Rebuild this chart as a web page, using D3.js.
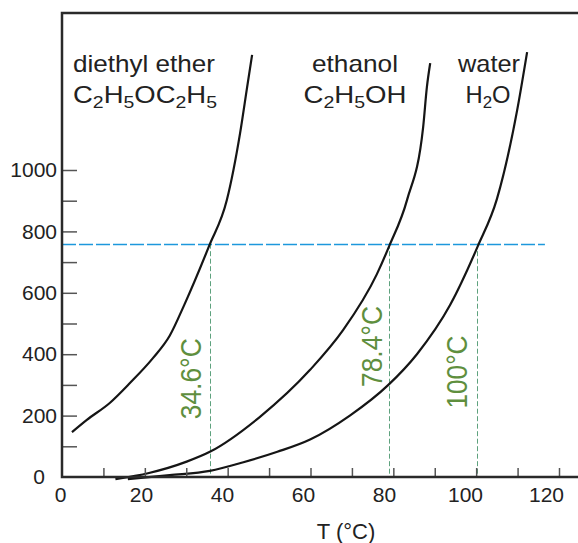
<!DOCTYPE html>
<html>
<head>
<meta charset="utf-8">
<script src="https://cdn.jsdelivr.net/npm/d3@7"></script>
<style>
body { margin: 0; background: #fff; }
svg text { font-family: "Liberation Sans", Arial, sans-serif; }
</style>
</head>
<body>
<div id="chart"></div>
<script>
// vapour pressure curves, [T in °C, P in mmHg]
var etherPts = [[2.4,146],[6,186],[11.6,242],[16.4,306],[22,388],[26,460],[29.5,560],[35.5,752],[39.8,902],[43,1120],[44.7,1270],[45.9,1375]];
var ethanolPts = [[12.9,-7],[21,13],[30.1,50],[35.7,82],[47.8,196],[59.9,349],[67.9,479],[76,660],[79,752],[83.3,902],[87.2,1140],[88.1,1270],[88.9,1348]];
var waterPts = [[15.9,-7],[26,6],[35.7,20],[43.8,48],[52,82],[59.9,122],[69.5,200],[78.8,300],[85.7,400],[93.7,560],[100.4,752],[105,905],[109.9,1195],[112.3,1384]];

var atmP = 760;
var boilT = [35.7, 79, 100.3];
var boilLabels = ["34.6°C", "78.4°C", "100°C"];
var boilLabelT = [33.6, 77.3, 97.8];
var boilLabelP = [320, 425, 342];

var xTicks = [10,20,30,40,50,60,70,80,90,100,110,120];
var xLabels = [0,20,40,60,80,100,120];
var yTicks = [100,200,300,400,500,600,700,800,900,1000];
var yLabels = [0,200,400,600,800,1000];

var svgWidth = 578;
var svgHeight = 543;

var svg = d3.select("#chart")
    .append("svg")
    .attr("width", svgWidth)
    .attr("height", svgHeight);

var x = d3.scaleLinear().domain([0,120]).range([62,559]);
// tick labels drift a little left of the ticks in the original drawing
var xLab = d3.scaleLinear().domain([0,120]).range([60,546]);
var y = d3.scaleLinear().domain([0,1000]).range([477,170]);

// blue 760 mmHg line
svg.append("line")
    .attr("x1", x(0)).attr("x2", x(116.6))
    .attr("y1", Math.round(y(atmP)) + 0.5).attr("y2", Math.round(y(atmP)) + 0.5)
    .attr("stroke", "#1d98dc")
    .attr("stroke-width", 1.4)
    .attr("stroke-dasharray", "14,3");

// green dashed drop lines
svg.selectAll(".drop")
    .data(boilT)
    .enter()
    .append("line")
    .attr("class", "drop")
    .attr("x1", d => Math.round(x(d)) + 0.5).attr("x2", d => Math.round(x(d)) + 0.5)
    .attr("y1", y(atmP)).attr("y2", y(0))
    .attr("stroke", "#5ea27e")
    .attr("stroke-width", 1)
    .attr("stroke-dasharray", "5,2.5");

svg.selectAll(".blabel")
    .data(boilLabels)
    .enter()
    .append("text")
    .attr("class", "blabel")
    .attr("transform", (d,i) => "translate(" + x(boilLabelT[i]) + "," + y(boilLabelP[i]) + ") rotate(-90)")
    .attr("text-anchor", "middle")
    .attr("fill", "#5f8f3e")
    .style("font-size", "30px")
    .attr("textLength", (d,i) => i == 2 ? 73 : 81)
    .attr("lengthAdjust", "spacingAndGlyphs")
    .text(d => d);

// curves
var line = d3.line()
    .x(d => x(d[0]))
    .y(d => y(d[1]))
    .curve(d3.curveMonotoneX);

[etherPts, ethanolPts, waterPts].forEach(function(pts){
    svg.append("path")
        .datum(pts)
        .attr("d", line)
        .attr("fill", "none")
        .attr("stroke", "#151515")
        .attr("stroke-width", 2.2);
});

// axes
var xAxisTicks = d3.axisTop(x).tickValues(xTicks).tickSize(9).tickFormat("");
var xg = svg.append("g")
    .attr("transform", "translate(0," + y(0) + ")")
    .call(xAxisTicks);
xg.select(".domain").remove();
xg.selectAll("line").attr("stroke", "#555").attr("stroke-width", 1.5);

var xAxisLabels = d3.axisBottom(xLab).tickValues(xLabels).tickSize(0).tickPadding(10);
var xl = svg.append("g")
    .attr("transform", "translate(0," + y(0) + ")")
    .call(xAxisLabels);
xl.select(".domain").remove();
xl.selectAll("text")
    .style("font-size", "21px")
    .style("font-family", "'Liberation Sans', Arial, sans-serif")
    .attr("fill", "#222");

var yAxis = d3.axisRight(y).tickValues(yTicks).tickSize(15).tickFormat("");
var yg = svg.append("g")
    .attr("transform", "translate(" + x(0) + ",0)")
    .call(yAxis);
yg.select(".domain").remove();
yg.selectAll("line").attr("stroke", "#555").attr("stroke-width", 1.5);

var yl = svg.append("g")
    .attr("transform", "translate(" + x(0) + ",0)")
    .call(d3.axisLeft(y).tickValues(yLabels).tickSize(0).tickPadding(5).tickFormat(d3.format("d")));
yl.select(".domain").remove();
yl.selectAll("text")
    .style("font-size", "21px")
    .style("font-family", "'Liberation Sans', Arial, sans-serif")
    .attr("fill", "#222")
    .attr("dx", d => d == 0 ? -12 : 0);

// frame: left axis, bottom axis, top line
svg.append("path")
    .attr("d", "M" + svgWidth + ",13H" + x(0) + "V" + y(0) + "H" + svgWidth)
    .attr("fill", "none")
    .attr("stroke", "#2a2a2a")
    .attr("stroke-width", 2.5);

svg.append("text")
    .attr("x", 346)
    .attr("y", 539)
    .attr("text-anchor", "middle")
    .attr("fill", "#222")
    .style("font-size", "22px")
    .text("T (°C)");

// substance names and formulas
function formula(g, xPos, yPos, parts, anchor, len) {
    var t = g.append("text")
        .attr("x", xPos).attr("y", yPos)
        .attr("text-anchor", anchor)
        .attr("fill", "#222")
        .style("font-size", "24px");
    if (len) t.attr("textLength", len).attr("lengthAdjust", "spacingAndGlyphs");
    parts.forEach(function(p){
        if (p.sub) {
            t.append("tspan").attr("dy", 5).style("font-size", "17px").text(p.sub);
            t.append("tspan").attr("dy", -5).text("\u200b");
        } else {
            t.append("tspan").text(p.t);
        }
    });
}

var names = svg.append("g");
names.append("text").attr("x", 73).attr("y", 72).attr("fill", "#222")
    .style("font-size", "24px").attr("textLength", 142).attr("lengthAdjust", "spacingAndGlyphs")
    .text("diethyl ether");
formula(names, 73, 103, [{t:"C"},{sub:"2"},{t:"H"},{sub:"5"},{t:"OC"},{sub:"2"},{t:"H"},{sub:"5"}], "start", 144);

names.append("text").attr("x", 355).attr("y", 72).attr("fill", "#222").attr("text-anchor", "middle")
    .style("font-size", "24px").attr("textLength", 86).attr("lengthAdjust", "spacingAndGlyphs")
    .text("ethanol");
formula(names, 355, 103, [{t:"C"},{sub:"2"},{t:"H"},{sub:"5"},{t:"OH"}], "middle", 103);

names.append("text").attr("x", 489).attr("y", 72).attr("fill", "#222").attr("text-anchor", "middle")
    .style("font-size", "24px").attr("textLength", 62).attr("lengthAdjust", "spacingAndGlyphs")
    .text("water");
formula(names, 488, 103, [{t:"H"},{sub:"2"},{t:"O"}], "middle", 45);
</script>
</body>
</html>
